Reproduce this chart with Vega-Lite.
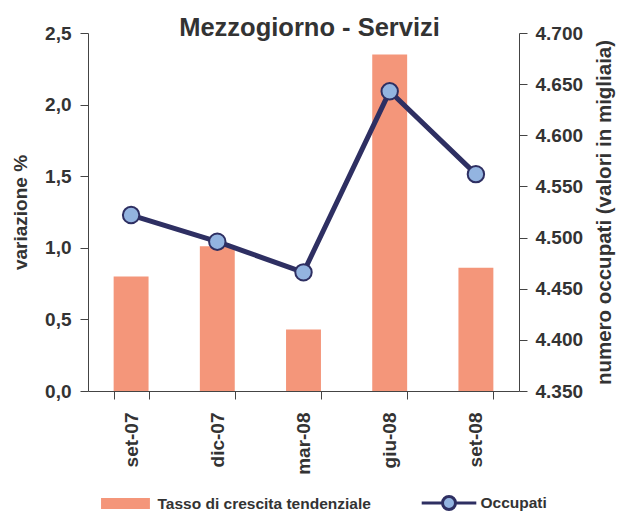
{
  "$schema": "https://vega.github.io/schema/vega-lite/v6.json",
  "autosize": {"type": "none"},
  "width": 431,
  "height": 358,
  "padding": {"left": 88, "top": 33, "right": 101, "bottom": 121},
  "background": "white",
  "title": {
    "text": "Mezzogiorno - Servizi",
    "font": "Liberation Sans",
    "fontSize": 25.5,
    "fontWeight": "bold",
    "color": "#333333",
    "anchor": "middle",
    "offset": -8,
    "dx": 6,
    "dy": 9
  },
  "config": {
    "view": {"stroke": null},
    "axis": {
      "labelFont": "Liberation Sans",
      "labelFontWeight": "bold",
      "labelFontSize": 19,
      "labelColor": "#333333",
      "titleFont": "Liberation Sans",
      "titleFontWeight": "bold",
      "titleFontSize": 19,
      "titleColor": "#333333",
      "domainColor": "#444444",
      "tickColor": "#444444",
      "grid": false
    },
    "legend": {
      "orient": "none",
      "direction": "horizontal",
      "legendX": 10.5,
      "legendY": 442.5,
      "symbolSize": 2704,
      "symbolStrokeWidth": 3,
      "labelFont": "Liberation Sans",
      "labelFontWeight": "bold",
      "labelFontSize": 15.5,
      "labelColor": "#333333",
      "labelOffset": 4,
      "labelLimit": 400,
      "columnPadding": 44
    }
  },
  "data": {
    "values": [
      {"periodo": "set-07", "tasso": 0.80, "occupati": 4522},
      {"periodo": "dic-07", "tasso": 1.01, "occupati": 4496},
      {"periodo": "mar-08", "tasso": 0.43, "occupati": 4466},
      {"periodo": "giu-08", "tasso": 2.35, "occupati": 4643},
      {"periodo": "set-08", "tasso": 0.86, "occupati": 4562}
    ]
  },
  "encoding": {
    "x": {
      "field": "periodo",
      "type": "nominal",
      "sort": null,
      "scale": {"paddingInner": 0.595, "paddingOuter": 0.2975},
      "axis": {
        "title": null,
        "labelAngle": 270,
        "labelAlign": "right",
        "labelBaseline": "middle",
        "labelPadding": 13,
        "tickBand": "extent",
        "tickSize": 8
      }
    }
  },
  "layer": [
    {
      "mark": {"type": "bar"},
      "encoding": {
        "y": {
          "field": "tasso",
          "type": "quantitative",
          "scale": {"domain": [0, 2.5], "nice": false, "zero": true},
          "axis": {
            "title": "variazione %",
            "values": [0, 0.5, 1, 1.5, 2, 2.5],
            "labelExpr": "replace(format(datum.value, '.1f'), '.', ',')",
            "tickSize": 8,
            "labelPadding": 9,
            "titlePadding": 14
          }
        },
        "color": {
          "datum": "Tasso di crescita tendenziale",
          "type": "nominal",
          "scale": {
            "domain": ["Tasso di crescita tendenziale", "Occupati"],
            "range": ["#F4967A", "#93B4E0"]
          },
          "legend": {
            "title": null,
            "encode": {
              "symbols": {
                "update": {
                  "shape": {"signal": "datum.value === 'Occupati' ? 'M-1.05,0H-0.25M0.25,0H1.05M-0.25,0A0.25,0.25 0 1,1 0.25,0A0.25,0.25 0 1,1 -0.25,0Z' : 'M-0.96,-0.21H0.92V0.21H-0.96Z'"},
                  "stroke": {"signal": "datum.value === 'Occupati' ? '#2E2F62' : 'transparent'"},
                  "strokeWidth": {"value": 3},
                  "opacity": {"value": 1},
                  "fillOpacity": {"value": 1}
                }
              }
            }
          }
        }
      }
    },
    {
      "encoding": {
        "y": {
          "field": "occupati",
          "type": "quantitative",
          "scale": {"domain": [4350, 4700], "nice": false, "zero": false},
          "axis": {
            "title": "numero occupati (valori in migliaia)",
            "orient": "right",
            "values": [4350, 4400, 4450, 4500, 4550, 4600, 4650, 4700],
            "labelExpr": "replace(format(datum.value, ',.0f'), ',', '.')",
            "tickSize": 8,
            "labelPadding": 8,
            "titleAngle": 270,
            "titleBaseline": "top",
            "titleFontSize": 20.5,
            "titlePadding": 12
          }
        }
      },
      "layer": [
        {
          "mark": {"type": "line", "strokeWidth": 5, "stroke": "#2E2F62"}
        },
        {
          "mark": {
            "type": "point",
            "filled": true,
            "fill": "#93B4E0",
            "stroke": "#2E2F62",
            "strokeWidth": 2,
            "size": 270,
            "opacity": 1
          }
        }
      ]
    }
  ],
  "resolve": {"scale": {"y": "independent"}}
}
